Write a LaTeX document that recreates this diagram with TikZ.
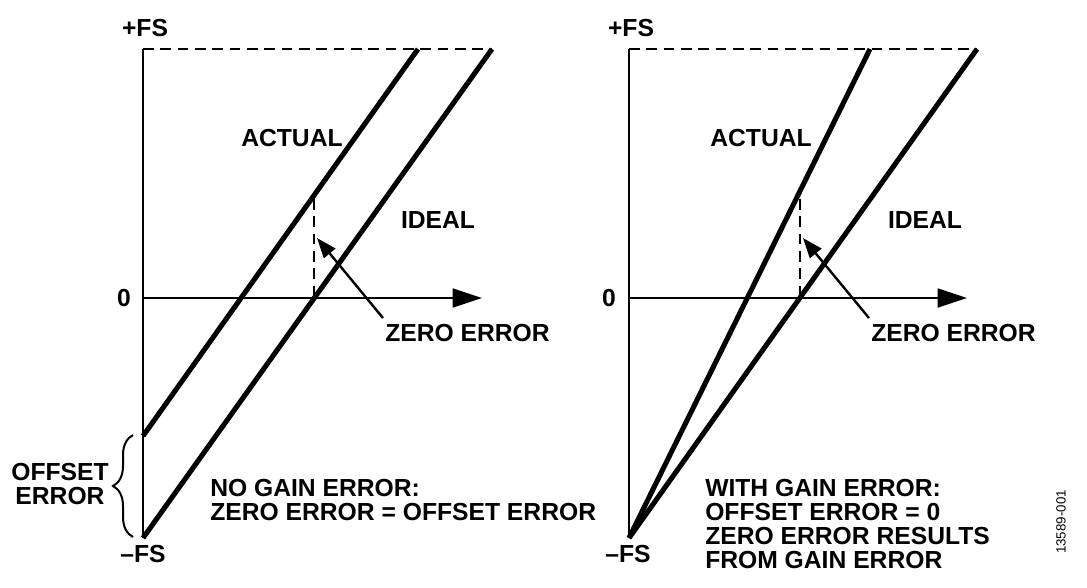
\documentclass[tikz,border=0pt]{standalone}
\usepackage{fontspec}
\setmainfont{Liberation Sans}
\usetikzlibrary{arrows.meta,decorations.pathreplacing}
\begin{document}
\begin{tikzpicture}[x=0.75pt,y=-0.75pt,
  lbl/.style={font=\bfseries\fontsize{18.5}{18}\selectfont,inner sep=0pt},
  txt/.style={lbl,align=left,anchor=west},
  axisline/.style={line width=2.2pt},
  thick line/.style={line width=3.8pt},
  dashline/.style={line width=1.5pt,dash pattern=on 8pt off 5pt},
  axarrow/.style={line width=2.2pt,-{Triangle[length=22pt,width=14pt]}},
  ptr/.style={line width=1.8pt,-{Triangle[length=15pt,width=11pt]}}]
\useasboundingbox (0,0) rectangle (1087,587);
% ---------- left panel ----------
\coordinate (Ltop) at (143,49);
\coordinate (Lbot) at (143,538);
\coordinate (Lzero) at (143,298);
\coordinate (Lax) at (482,298);
\coordinate (Lact0) at (143,436);
\coordinate (Lact1) at (418,49);
\coordinate (Lide1) at (492,49);
\coordinate (Ld0) at (314,199);
\coordinate (Ld1) at (314,298);
\draw[axisline] (Lbot) -- (Ltop);
\draw[dashline] (Ltop) -- (Lide1);
\draw[thick line] (Lact0) -- (Lact1);
\draw[thick line] (Lbot) -- (Lide1);
\draw[axarrow] (Lzero) -- (Lax);
\draw[dashline] (Ld0) -- (Ld1);
\node[lbl] (Lpfs) at (145,28) {+FS};
\node[lbl] (Lmfs) at (143,554) {–FS};
\node[lbl] (Lz) at (124,298) {0};
\node[lbl] (Lactual) at (292,138) {ACTUAL};
\node[lbl] (Lideal) at (438,220) {IDEAL};
\node[txt] (Lze) at (385,333) {ZERO ERROR};
\coordinate (Lpt) at (317,238);
\draw[ptr] (Lze.north west) ++(-2,-6) coordinate (Lpt0) -- (Lpt);
\draw[line width=1.5pt,decorate,decoration={brace,amplitude=15pt}] (133,537) -- (133,435);
\node[lbl,align=center] (Loff) at (60,484) {OFFSET\\ERROR};
\node[txt] (Lnote) at (210,500) {NO GAIN ERROR:\\ZERO ERROR = OFFSET ERROR};
% ---------- right panel ----------
\coordinate (Rtop) at (629,49);
\coordinate (Rbot) at (629,538);
\coordinate (Rzero) at (629,298);
\coordinate (Rax) at (967,298);
\coordinate (Ract1) at (870,49);
\coordinate (Ride1) at (977,49);
\coordinate (Rd0) at (800,199);
\coordinate (Rd1) at (800,298);
\draw[axisline] (Rbot) -- (Rtop);
\draw[dashline] (Rtop) -- (Ride1);
\draw[thick line] (Rbot) -- (Ract1);
\draw[thick line] (Rbot) -- (Ride1);
\draw[axarrow] (Rzero) -- (Rax);
\draw[dashline] (Rd0) -- (Rd1);
\node[lbl] (Rpfs) at (631,28) {+FS};
\node[lbl] (Rmfs) at (628,554) {–FS};
\node[lbl] (Rz) at (609,298) {0};
\node[lbl] (Ractual) at (761,138) {ACTUAL};
\node[lbl] (Rideal) at (925,220) {IDEAL};
\node[txt] (Rze) at (871,333) {ZERO ERROR};
\coordinate (Rpt) at (803,238);
\draw[ptr] (Rze.north west) ++(-2,-6) coordinate (Rpt0) -- (Rpt);
\node[txt] (Rnote) at (705,524) {WITH GAIN ERROR:\\OFFSET ERROR = 0\\ZERO ERROR RESULTS\\FROM GAIN ERROR};
\node[font=\fontsize{10}{10}\selectfont,inner sep=0pt,rotate=90] (fig) at (1061,522) {13589-001};
\end{tikzpicture}
\end{document}
